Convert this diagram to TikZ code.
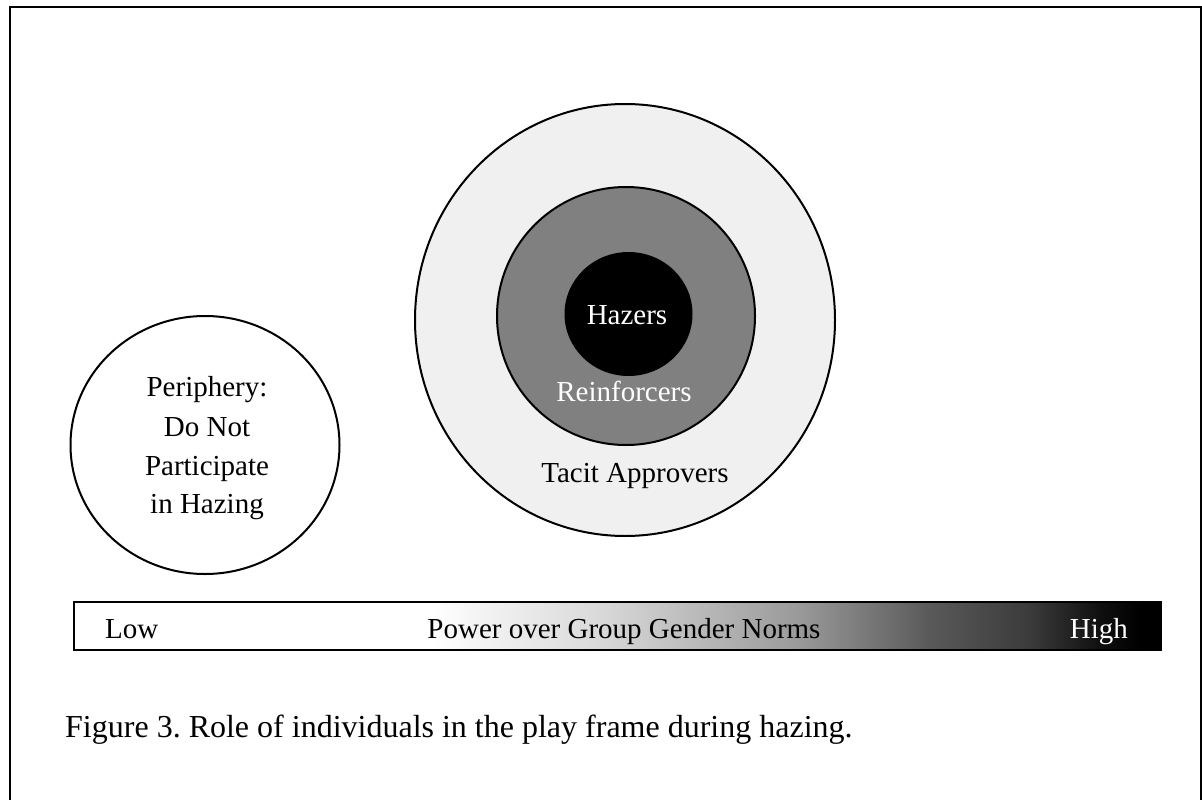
\documentclass[tikz,border=0pt]{standalone}
\usepackage{fontspec}
\setmainfont{Liberation Serif}
\usetikzlibrary{shapes.geometric}
\definecolor{outerfill}{HTML}{F0F0F0}
\definecolor{midfill}{HTML}{808080}
\tikzset{
  ring/.style={draw=black, line width=2pt, ellipse, inner sep=0pt},
  lbl/.style={font=\fontsize{29}{34}\selectfont, inner sep=0pt},
  caplbl/.style={font=\fontsize{32}{38}\selectfont\frenchspacing, inner sep=0pt},
}
\begin{document}
\begin{tikzpicture}[x=1pt,y=-1pt]
\useasboundingbox (0,0) rectangle (1202,800);
% frame
\draw[line width=2.2pt] (10,805) -- (10,7) -- (1201,7) -- (1201,805);
% periphery circle
\node[ring, fill=white, minimum width=269pt, minimum height=258pt] (peri) at (205,445) {};
\node[lbl, anchor=base] (p1) at (207,396.7) {Periphery:};
\node[lbl, anchor=base] (p2) at (207,436) {Do Not};
\node[lbl, anchor=base] (p3) at (207,475) {Participate};
\node[lbl, anchor=base] (p4) at (207,513.3) {in Hazing};
% concentric circles
\node[ring, fill=outerfill, minimum width=420pt, minimum height=432pt] (outer) at (625,320) {};
\node[ring, fill=midfill, minimum width=258pt, minimum height=258pt] (mid) at (626,316) {};
\node[ring, fill=black, minimum width=126pt, minimum height=122pt] (inner) at (628.5,314) {};
\node[lbl, anchor=base, text=white] (haz) at (627,324) {Hazers};
\node[lbl, anchor=base, text=white] (reinf) at (624,401.7) {Reinforcers};
\node[lbl, anchor=base] (tacit) at (635,482.7) {Tacit Approvers};
% gradient bar
\fill[white] (73,601) rectangle (430,649);
\fill[left color=white, right color=black!15] (429.5,601) rectangle (600.5,649);
\fill[left color=black!15, right color=black!40] (600,601) rectangle (800.5,649);
\fill[left color=black!40, right color=black!65] (800,601) rectangle (930.5,649);
\fill[left color=black!65, right color=black!77] (930,601) rectangle (1030.5,649);
\fill[left color=black!77, right color=black!94] (1030,601) rectangle (1100.5,649);
\fill[left color=black!94, right color=black] (1100,601) rectangle (1140.5,649);
\fill[black] (1140,601) rectangle (1160,649);
\node[draw=black, line width=2pt, minimum width=1087pt, minimum height=48pt, inner sep=0pt, anchor=north west] (bar) at (73,601) {};
\node[lbl, anchor=base west] (low) at (105,638.3) {Low};
\node[lbl, anchor=base] (power) at (624,638.3) {Power over Group Gender Norms};
\node[lbl, anchor=base east, text=white] (high) at (1128,638.3) {High};
% caption
\node[caplbl, anchor=base west] (cap) at (65,737) {Figure 3. Role of individuals in the play frame during hazing.};
\end{tikzpicture}
\end{document}
